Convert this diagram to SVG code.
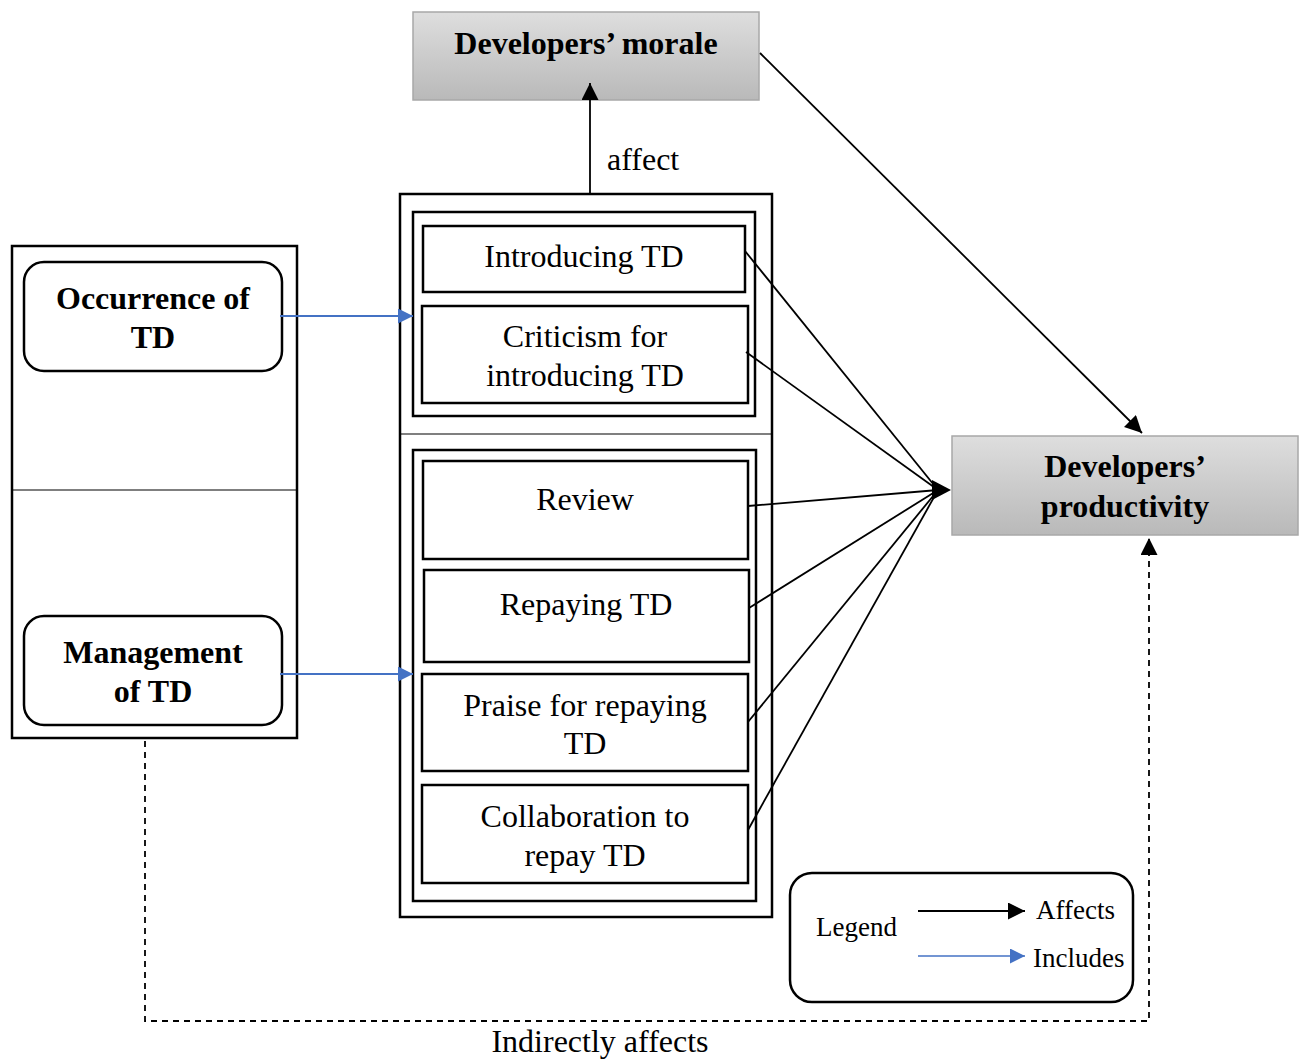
<svg xmlns="http://www.w3.org/2000/svg" width="1305" height="1059" viewBox="0 0 1305 1059">
  <style>
    text { font-family: "Liberation Serif", "Times New Roman", serif; fill: #000; }
    .title { font-size: 32px; font-weight: bold; text-anchor: middle; }
    .item { font-size: 32px; text-anchor: middle; }
    .lbl { font-size: 32px; }
    .leg { font-size: 27px; }
    .frame { fill: #fff; stroke: #000; stroke-width: 2.5; }
    .box { fill: #fff; stroke: #000; stroke-width: 2.5; }
    .grey { fill: url(#greyFill); stroke: #a8a8a8; stroke-width: 1.5; }
    .aff { stroke: #000; stroke-width: 1.8; fill: none; }
    .inc { stroke: #4472c4; stroke-width: 2; fill: none; }
    .dash { stroke: #000; stroke-width: 1.8; fill: none; stroke-dasharray: 6 5; }
  </style>
  <defs>
    <linearGradient id="greyFill" x1="0" y1="0" x2="0" y2="1">
      <stop offset="0" stop-color="#dedede"/>
      <stop offset="1" stop-color="#b9b9b9"/>
    </linearGradient>
    <marker id="arrowBlackL" viewBox="0 0 10 10" refX="10" refY="5" markerWidth="17" markerHeight="17" markerUnits="userSpaceOnUse" orient="auto">
      <path d="M0,0 L10,5 L0,10 Z" fill="#000"/>
    </marker>
    <marker id="arrowBlue" viewBox="0 0 10 10" refX="10" refY="5" markerWidth="15" markerHeight="15" markerUnits="userSpaceOnUse" orient="auto">
      <path d="M0,0 L10,5 L0,10 Z" fill="#4472c4"/>
    </marker>
  </defs>

  <!-- Top and right outcome nodes -->
  <g id="morale">
    <rect class="grey" x="413" y="12" width="346" height="88"/>
    <text class="title" x="586" y="54">Developers’ morale</text>
  </g>
  <g id="productivity">
    <rect class="grey" x="952" y="436" width="346" height="99"/>
    <text class="title" x="1125" y="477">Developers’</text>
    <text class="title" x="1125" y="517">productivity</text>
  </g>

  <!-- Left container: occurrence / management -->
  <g id="td-aspects">
    <rect class="frame" x="12" y="246" width="285" height="492"/>
    <line x1="12" y1="490" x2="297" y2="490" stroke="#000" stroke-width="1.2"/>
  </g>
  <g id="occurrence">
    <rect class="box" x="24" y="262" width="258" height="109" rx="20"/>
    <text class="title" x="153" y="309">Occurrence of</text>
    <text class="title" x="153" y="348">TD</text>
  </g>
  <g id="management">
    <rect class="box" x="24" y="616" width="258" height="109" rx="20"/>
    <text class="title" x="153" y="663">Management</text>
    <text class="title" x="153" y="702">of TD</text>
  </g>

  <!-- Middle container with activity groups -->
  <g id="activities">
    <rect class="frame" x="400" y="194" width="372" height="723"/>
    <line x1="400" y1="434" x2="772" y2="434" stroke="#000" stroke-width="1.2"/>
    <rect class="frame" x="413" y="212" width="342" height="204" stroke-width="3"/>
    <rect class="frame" x="413" y="450" width="343" height="451" stroke-width="3"/>
  </g>
  <g id="introducing">
    <rect class="box" x="423" y="226" width="322" height="66"/>
    <text class="item" x="584" y="267">Introducing TD</text>
  </g>
  <g id="criticism">
    <rect class="box" x="422" y="306" width="326" height="97" stroke-width="2"/>
    <text class="item" x="585" y="347">Criticism for</text>
    <text class="item" x="585" y="386">introducing TD</text>
  </g>
  <g id="review">
    <rect class="box" x="423" y="461" width="325" height="98"/>
    <text class="item" x="585" y="510">Review</text>
  </g>
  <g id="repaying">
    <rect class="box" x="424" y="570" width="325" height="92"/>
    <text class="item" x="586" y="615">Repaying TD</text>
  </g>
  <g id="praise">
    <rect class="box" x="422" y="674" width="326" height="97"/>
    <text class="item" x="585" y="716">Praise for repaying</text>
    <text class="item" x="585" y="754">TD</text>
  </g>
  <g id="collaboration">
    <rect class="box" x="422" y="785" width="326" height="98"/>
    <text class="item" x="585" y="827">Collaboration to</text>
    <text class="item" x="585" y="866">repay TD</text>
  </g>

  <!-- Connectors -->
  <g id="connectors">
    <line class="aff" x1="590" y1="193" x2="590" y2="83" marker-end="url(#arrowBlackL)"/>
    <text class="lbl" x="607" y="170">affect</text>
    <line class="aff" x1="760" y1="53" x2="1142" y2="433" marker-end="url(#arrowBlackL)"/>

    <line class="aff" x1="745" y1="251" x2="938" y2="490"/>
    <line class="aff" x1="746" y1="352" x2="938" y2="490"/>
    <line class="aff" x1="748" y1="506" x2="938" y2="490"/>
    <line class="aff" x1="749" y1="608" x2="938" y2="490"/>
    <line class="aff" x1="748" y1="722" x2="938" y2="490"/>
    <line class="aff" x1="748" y1="830" x2="938" y2="490"/>
    <path d="M932,480 L951,490 L932,500 Z" fill="#000"/>

    <line class="inc" x1="280" y1="316" x2="413" y2="316" marker-end="url(#arrowBlue)"/>
    <line class="inc" x1="280" y1="674" x2="413" y2="674" marker-end="url(#arrowBlue)"/>

    <path class="dash" d="M145,741 V1021 H1149 V538" marker-end="url(#arrowBlackL)"/>
    <text class="lbl" x="600" y="1052" text-anchor="middle">Indirectly affects</text>
  </g>

  <!-- Legend -->
  <g id="legend">
    <rect x="790" y="873" width="343" height="129" rx="22" fill="#fff" stroke="#000" stroke-width="2.5"/>
    <text class="leg" x="816" y="936">Legend</text>
    <line class="aff" x1="918" y1="911" x2="1025" y2="911" marker-end="url(#arrowBlackL)"/>
    <text class="leg" x="1036" y="919">Affects</text>
    <line x1="918" y1="956" x2="1025" y2="956" stroke="#4472c4" stroke-width="1.3" marker-end="url(#arrowBlue)"/>
    <text class="leg" x="1033" y="967">Includes</text>
  </g>
</svg>
